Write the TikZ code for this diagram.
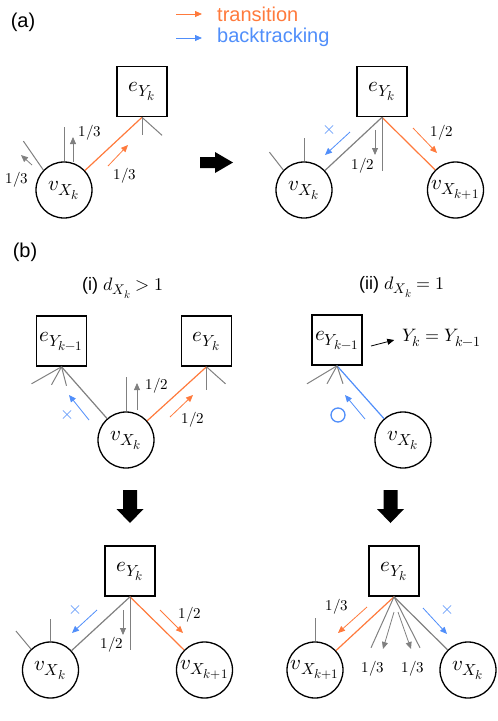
\documentclass[tikz,border=0pt]{standalone}
\usepackage{unicode-math}
\setsansfont{Liberation Sans}
\usetikzlibrary{arrows.meta}
\DeclareMathSizes{21}{21}{16}{13}
\DeclareMathSizes{18}{18}{14}{11}
\DeclareMathSizes{15}{15}{11}{9}

\definecolor{trans}{RGB}{255,122,60}
\definecolor{back}{RGB}{80,142,250}
\definecolor{stubgray}{RGB}{128,128,128}

\tikzset{
  vnode/.style={circle, draw, line width=1.3pt, minimum size=56pt, inner sep=0pt, font=\fontsize{21}{24}\selectfont},
  enode/.style={rectangle, draw, line width=1.6pt, minimum size=50pt, inner sep=0pt, font=\fontsize{21}{24}\selectfont},
  link/.style={line width=1.2pt},
  stub/.style={stubgray, line width=1pt},
  parr/.style={line width=0.8pt, -{Triangle[length=7pt, width=6pt]}},
  plab/.style={font=\fontsize{15}{18}\selectfont, inner sep=0pt},
  tag/.style={font=\sffamily\fontsize{20}{24}\selectfont, inner sep=0pt},
  xsym/.style={back, font=\fontsize{18}{20}\selectfont, inner sep=0pt},
}

\begin{document}
\begin{tikzpicture}[x=1pt, y=-1pt]
\useasboundingbox (0,0) rectangle (498,721);

% Titles and legend
\node[tag] (ta) at (23,22) {(a)};
\node[tag] (tb) at (25,252) {(b)};
\node[tag, trans, anchor=west] (legtr) at (217,14) {transition};
\node[tag, back, anchor=west] (legbk) at (217,37) {backtracking};
\draw[parr, trans] ([xshift=-41pt]legtr.west) -- ([xshift=-15pt]legtr.west);
\draw[parr, back] ([xshift=-41pt]legbk.west |- 0,38) -- ([xshift=-15pt]legbk.west |- 0,38);
\node[tag, font=\sffamily\fontsize{18}{22}\selectfont] (ti) at (123,288) {(i) $d_{X_k}>1$};
\node[tag, font=\sffamily\fontsize{18}{22}\selectfont] (tii) at (402,287) {(ii) $d_{X_k}=1$};

% (a) before
\node[enode] (eA) at (142,91.5) {$e_{Y_k}$};
\node[vnode] (vA) at (64,190) {$v_{X_k}$};
\draw[link, trans] (vA) -- (eA.south);
\draw[stub] (eA.south) -- ++(0,18);
\draw[stub] (eA.south) -- ++(20,18);
\draw[stub] (vA.north) -- ++(0,-34);
\draw[stub] (vA.136) -- ++(-20,-29);
\draw[parr, stubgray] (73,162) -- (73,137);
\node[plab] (pA1) at (90,133) {$1/3$};
\draw[parr, stubgray] (32,165) -- (21,155);
\node[plab] (pA2) at (17,180) {$1/3$};
\draw[parr, trans] (108,166) -- (128,145);
\node[plab] (pA3) at (125,176) {$1/3$};

% (a) step arrow
\fill (200,157) -- (215,157) -- (215,152) -- (233,162.5) -- (215,173) -- (215,168) -- (200,168) -- cycle;

% (a) after
\node[enode] (eB) at (382,91.5) {$e_{Y_k}$};
\node[vnode] (vB) at (304,190) {$v_{X_k}$};
\node[vnode] (vC) at (455.5,190) {$v_{X_{k+1}}$};
\draw[link, stubgray] (eB.south) -- (vB);
\draw[link, trans] (eB.south) -- (vC);
\draw[stub] (eB.south) -- ++(0,54);
\draw[stub] (vB.north) -- ++(0,-23);
\draw[stub] (vB.136) -- ++(-14,-18);
\draw[parr, back] (350,132) -- (325,155);
\node[xsym] (xB) at (329,130) {$\times$};
\draw[parr, stubgray] (375,130) -- (375,155);
\node[plab] (pB1) at (363,166) {$1/2$};
\draw[parr, trans] (413,128) -- (437,153);
\node[plab] (pB2) at (442,133) {$1/2$};

% (b)(i) before
\node[enode] (eC) at (61.5,341) {$e_{Y_{k-1}}$};
\node[enode] (eD) at (206.5,341) {$e_{Y_k}$};
\node[vnode] (vD) at (126,440) {$v_{X_k}$};
\draw[link, stubgray] (eC.south) -- (vD);
\draw[stub] (eC.south) -- ++(-30,17);
\draw[stub] (eC.south) -- ++(-10,18);
\draw[stub] (eC.south) -- ++(5,19);
\draw[link, trans] (vD) -- (eD.south);
\draw[stub] (eD.south) -- ++(0,23);
\draw[stub] (eD.south) -- ++(19,17);
\draw[stub] (vD.north) -- ++(0,-34);
\draw[parr, stubgray] (137,410) -- (137,383);
\node[plab] (pD1) at (157,386) {$1/2$};
\draw[parr, trans] (170,417) -- (193,395);
\node[plab] (pD2) at (193,420) {$1/2$};
\draw[parr, back] (89,420) -- (69,395);
\node[xsym] (xD) at (68,415) {$\times$};

% (b)(ii) before
\node[enode] (eE) at (337,340) {$e_{Y_{k-1}}$};
\node[vnode] (vE) at (403,440) {$v_{X_k}$};
\draw[link, back] (vE) -- (eE.south);
\draw[stub] (eE.south) -- ++(-30,18);
\draw[stub] (eE.south) -- ++(-10,18);
\draw[stub] (eE.south) -- ++(6,18);
\node[plab, font=\fontsize{18}{22}\selectfont, anchor=west] (yeq) at (402,338) {$Y_k=Y_{k-1}$};
\coordinate (yfrom) at (371,346);
\draw[parr, black, shorten >=8pt] (yfrom) -- (yeq.west);
\draw[parr, back] (365,419) -- (345,395);
\draw[back, line width=1.3pt] (338,415) circle (7);

% (b) step arrows
\foreach \cx in {130,390.5}
  \fill ({\cx-7},490) -- ({\cx+7},490) -- ({\cx+7},509) -- ({\cx+13.5},509) -- (\cx,523) -- ({\cx-13.5},509) -- ({\cx-7},509) -- cycle;

% (b)(i) after
\node[enode] (eF) at (130,571) {$e_{Y_k}$};
\node[vnode] (vF) at (50.5,670) {$v_{X_k}$};
\node[vnode] (vG) at (204.5,670) {$v_{X_{k+1}}$};
\draw[link, stubgray] (eF.south) -- (vF);
\draw[link, trans] (eF.south) -- (vG);
\draw[stub] (eF.south) -- ++(0,53);
\draw[stub] (vF.north) -- ++(0,-22);
\draw[stub] (vF.133) -- ++(-15,-18);
\draw[parr, back] (97,610) -- (72,633);
\node[xsym] (xF) at (76,610) {$\times$};
\draw[parr, stubgray] (123,610) -- (123,635);
\node[plab] (pF1) at (112,645) {$1/2$};
\draw[parr, trans] (160,610) -- (183,633);
\node[plab] (pF2) at (190,615) {$1/2$};

% (b)(ii) after
\node[enode] (eG) at (394,571) {$e_{Y_k}$};
\node[vnode] (vH) at (315,670) {$v_{X_{k+1}}$};
\node[vnode] (vI) at (468,670) {$v_{X_k}$};
\draw[link, trans] (eG.south) -- (vH);
\draw[link, stubgray] (eG.south) -- (vI);
\draw[stub] (eG.south) -- ++(-23,51);
\draw[stub] (eG.south) -- ++(26,51);
\draw[stub] (vH.north) -- ++(0,-23);
\draw[parr, stubgray] (394,612) -- (383,649);
\draw[parr, stubgray] (398,612) -- (411,649);
\node[plab] (pG1) at (373,669) {$1/3$};
\node[plab] (pG2) at (413,669) {$1/3$};
\draw[parr, trans] (367,607) -- (338,633);
\node[plab] (pG3) at (337,607) {$1/3$};
\draw[parr, back] (423,608) -- (447,634);
\node[xsym] (xG) at (447,610) {$\times$};
\end{tikzpicture}
\end{document}
